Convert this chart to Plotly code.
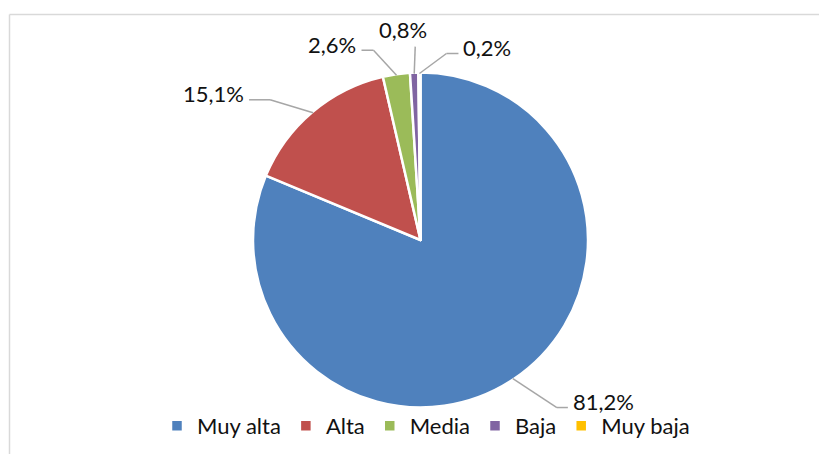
import math
import plotly.graph_objects as go

# ---- data ----
categories = ["Muy alta", "Alta", "Media", "Baja", "Muy baja"]
values = [81.2, 15.1, 2.6, 0.8, 0.2]
label_texts = ["81,2%", "15,1%", "2,6%", "0,8%", "0,2%"]
colors = ["#4F81BD", "#C0504D", "#9BBB59", "#8064A2", "#FFC000"]

# ---- layout constants (pixels) ----
W, H = 819, 454
CX, CY, R = 420.5, 240.0, 167.5
FONT = "Lato"
TEXT_COLOR = "#111111"
LEADER_COLOR = "#a6a6a6"

# per-label leader style: (elbow dx, elbow dy, horizontal segment length)
leader_style = [
    (44, 29, 11),
    (-43, -13, -21),
    (-23, -25, -12),
    (1, -27, 0),
    (27, -20, 12),
]


def px(x):
    return x / W


def py(y):
    return 1 - y / H


fig = go.Figure()
fig.add_trace(go.Pie(
    labels=categories,
    values=values,
    sort=False,
    direction="clockwise",
    rotation=0,
    textinfo="none",
    marker=dict(colors=colors, line=dict(color="white", width=2.5)),
    domain=dict(x=[px(CX - R), px(CX + R)], y=[py(CY + R), py(CY - R)]),
    hoverinfo="label+percent",
))

shapes = []
annotations = []
total = sum(values)
cum = 0.0
for i, v in enumerate(values):
    mid = (cum + v / 2) / total * 2 * math.pi
    cum += v
    ex = CX + (R - 1) * math.sin(mid)
    ey = CY - (R - 1) * math.cos(mid)
    dx, dy, hl = leader_style[i]
    bx, by = ex + dx, ey + dy
    hx = bx + hl
    shapes.append(dict(type="line", xref="paper", yref="paper",
                       x0=px(ex), y0=py(ey), x1=px(bx), y1=py(by),
                       line=dict(color=LEADER_COLOR, width=1.5)))
    if hl != 0:
        shapes.append(dict(type="line", xref="paper", yref="paper",
                           x0=px(bx), y0=py(by), x1=px(hx), y1=py(by),
                           line=dict(color=LEADER_COLOR, width=1.5)))
        side = 1 if hl > 0 else -1
        annotations.append(dict(
            x=px(hx + side * 3), y=py(by - 6), xref="paper", yref="paper",
            text=label_texts[i], showarrow=False,
            xanchor="left" if side > 0 else "right", yanchor="middle",
            font=dict(family=FONT, size=22, color=TEXT_COLOR)))
    else:
        annotations.append(dict(
            x=px(bx - 12), y=py(by - 2), xref="paper", yref="paper",
            text=label_texts[i], showarrow=False,
            xanchor="center", yanchor="bottom",
            font=dict(family=FONT, size=22, color=TEXT_COLOR)))

# chart-area border (left and top edges visible)
shapes.append(dict(type="line", xref="paper", yref="paper",
                   x0=px(9.5), y0=py(14.5), x1=px(819), y1=py(14.5),
                   line=dict(color="#d9d9d9", width=1.5)))
shapes.append(dict(type="line", xref="paper", yref="paper",
                   x0=px(9.5), y0=py(14.5), x1=px(9.5), y1=py(454),
                   line=dict(color="#d9d9d9", width=1.5)))

fig.update_layout(
    width=W, height=H,
    margin=dict(l=0, r=0, t=0, b=0),
    paper_bgcolor="white",
    plot_bgcolor="white",
    shapes=shapes,
    annotations=annotations,
    showlegend=True,
    legend=dict(orientation="h", x=px(426), xanchor="center",
                y=py(426), yanchor="middle",
                font=dict(family=FONT, size=22, color=TEXT_COLOR),
                itemwidth=30, tracegroupgap=0, bgcolor="rgba(0,0,0,0)"),
)

fig.write_html("out.html")
